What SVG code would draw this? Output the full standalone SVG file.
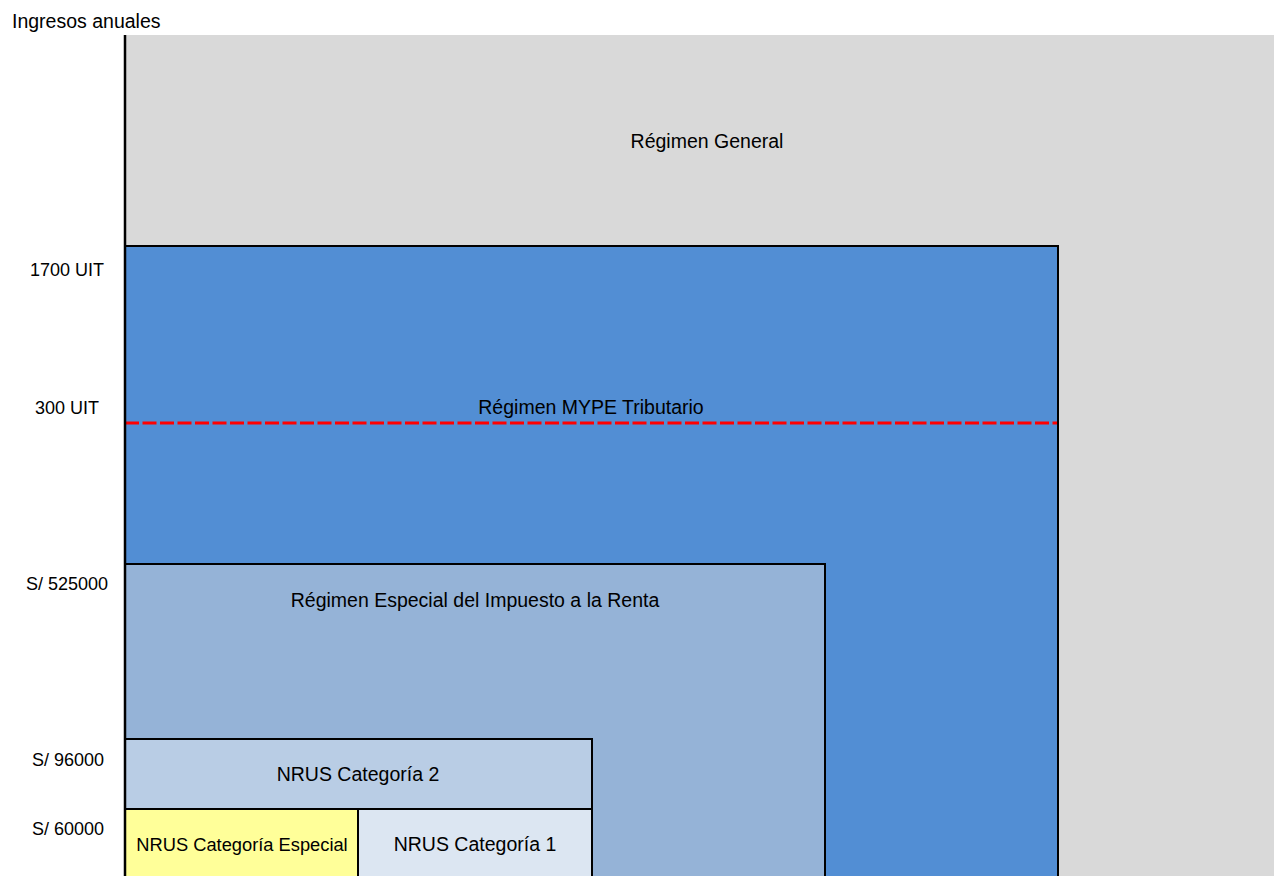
<svg xmlns="http://www.w3.org/2000/svg" width="1274" height="876" viewBox="0 0 1274 876">
<style>
text{font-family:"Liberation Sans",Arial,sans-serif;font-size:19.5px;fill:#000}
.c{text-anchor:middle}
.r{text-anchor:end;font-size:18px}
.s{font-size:18.3px}
.box{stroke:#000;stroke-width:2}
</style>
<rect width="1274" height="876" fill="#fff"/>
<g id="general"><rect x="125" y="35" width="1149" height="841" fill="#D9D9D9"/><text class="c" x="707" y="148">Régimen General</text></g>
<g id="mype"><rect class="box" x="125" y="246" width="933" height="640" fill="#528ED4"/><text class="c" x="591" y="414">Régimen MYPE Tributario</text></g>
<g id="connectors"><line x1="125" y1="423" x2="1057" y2="423" stroke="#FF0000" stroke-width="3" stroke-dasharray="14,3.5"/></g>
<g id="rer"><rect class="box" x="125" y="564" width="700" height="322" fill="#95B3D7"/><text class="c" x="475" y="607">Régimen Especial del Impuesto a la Renta</text></g>
<g id="nrus2"><rect class="box" x="125" y="739" width="467" height="70" fill="#B9CDE5"/><text class="c" x="358" y="781">NRUS Categoría 2</text></g>
<g id="nrusesp"><rect class="box" x="125" y="809" width="233" height="77" fill="#FFFF99"/><text class="c s" x="242" y="851">NRUS Categoría Especial</text></g>
<g id="nrus1"><rect class="box" x="358" y="809" width="234" height="77" fill="#DCE6F2"/><text class="c" x="475" y="851">NRUS Categoría 1</text></g>
<line x1="125" y1="35" x2="125" y2="876" stroke="#000" stroke-width="2.5"/>
<g id="labels">
<text x="12" y="28">Ingresos anuales</text>
<text class="r" x="104" y="276">1700 UIT</text>
<text class="r" x="99" y="414">300 UIT</text>
<text class="r" x="108" y="590">S/ 525000</text>
<text class="r" x="104" y="766">S/ 96000</text>
<text class="r" x="104" y="835">S/ 60000</text>
</g>
</svg>
